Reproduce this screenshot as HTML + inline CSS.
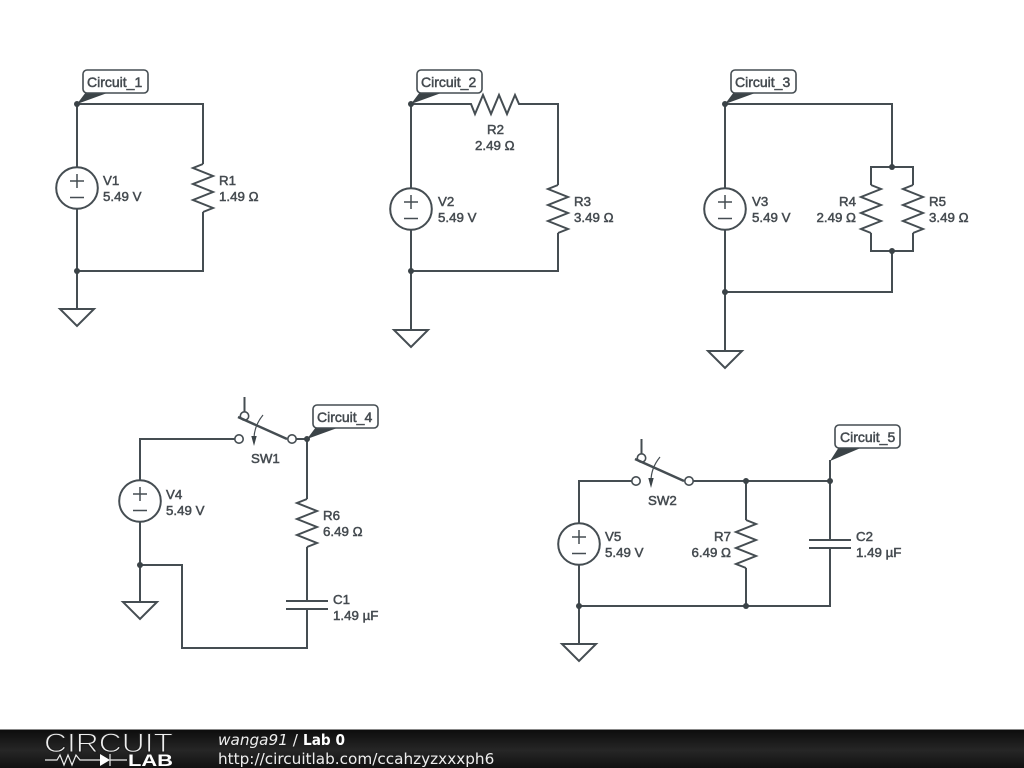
<!DOCTYPE html>
<html>
<head>
<meta charset="utf-8">
<style>
html,body{margin:0;padding:0;background:#fff;width:1024px;height:768px;overflow:hidden}
svg{display:block}
.w{fill:none;stroke:#454d52;stroke-width:2}
.t{font-family:"Liberation Sans",sans-serif;font-size:13.3px;fill:#454b50;stroke:#454b50;stroke-width:.5}
.c{font-size:14px}
.e{text-anchor:end}
.tag{fill:#fff;stroke:#454d52;stroke-width:1.6}
.p{fill:#3b4347}
.d{fill:#3b4347}
.f{font-family:"DejaVu Sans",sans-serif;font-size:15.25px;fill:#eee}
</style>
</head>
<body>
<svg width="1024" height="768" viewBox="0 0 1024 768" xmlns="http://www.w3.org/2000/svg">
<defs>
<linearGradient id="bar" x1="0" y1="0" x2="0" y2="1"><stop offset="0" stop-color="#0c0c0c"/><stop offset=".55" stop-color="#262626"/><stop offset="1" stop-color="#111"/></linearGradient>
<g id="v"><circle r="20.8" class="w" fill="none"/><path class="w" style="stroke-width:1.5" d="M-7 -7H7M0 -14V0M-7 9.500H7"/></g>
<path id="r" class="w" d="M0 -24L-10 -20L10 -12L-10 -4L10 4L-10 12L10 20L0 24"/>
<path id="rr" class="w" d="M0 -24L10 -20L-10 -12L10 -4L-10 4L10 12L-10 20L0 24"/>
<path id="g" class="w" d="M-17 0H17L0 17Z"/>
<g id="sw"><path class="w" style="stroke-width:2.500" d="M-1 -22L48 0"/><path class="w" d="M5.500 -27V-42"/><circle cx="0" cy="0" r="4.200" class="w" style="stroke-width:1.6" fill="#fff"/><circle cx="53" cy="0" r="4.200" class="w" style="stroke-width:1.6" fill="#fff"/><circle cx="5.500" cy="-23" r="4.200" class="w" style="stroke-width:1.6" fill="#fff"/><path fill="none" stroke="#454d52" stroke-width="1.200" d="M24 -24Q15 -13 15 0"/><path class="p" d="M12.300 -3H17.700L15 7Z"/></g>
</defs>

<!-- Circuit 1 -->
<path class="w" d="M77 104H203V164M203 212V271H77M77 104V167M77 209V309"/>
<use href="#v" x="77" y="188"/>
<use href="#r" x="203" y="188"/>
<use href="#g" x="77" y="309"/>
<circle class="d" cx="77" cy="104" r="3"/><circle class="d" cx="77" cy="271" r="3"/>
<path class="p" d="M77 104L86 92H110Z"/>
<rect class="tag" x="83" y="70" width="65" height="23" rx="4"/>
<text class="t c" x="87" y="87">Circuit_1</text>
<text class="t" x="103" y="185">V1</text><text class="t" x="103" y="201">5.49 V</text>
<text class="t" x="219" y="185">R1</text><text class="t" x="219" y="201">1.49 Ω</text>

<!-- Circuit 2 -->
<path class="w" d="M411 104H471L475 114L483 95L491 114L499 95L507 114L515 95L519 104H558V185M558 233V271H411M411 104V188M411 230V330"/>
<use href="#v" x="411" y="209"/>
<use href="#r" x="558" y="209"/>
<use href="#g" x="411" y="330"/>
<circle class="d" cx="411" cy="104" r="3"/><circle class="d" cx="411" cy="271" r="3"/>
<path class="p" d="M411 104L420 92H444Z"/>
<rect class="tag" x="417" y="70" width="65" height="23" rx="4"/>
<text class="t c" x="421" y="87">Circuit_2</text>
<text class="t" x="487" y="134">R2</text><text class="t" x="475" y="150">2.49 Ω</text>
<text class="t" x="438" y="206">V2</text><text class="t" x="438" y="222">5.49 V</text>
<text class="t" x="574" y="206">R3</text><text class="t" x="574" y="222">3.49 Ω</text>

<!-- Circuit 3 -->
<path class="w" d="M725 104H892V167M871 185V167H913V185M871 233V251H913V233M892 251V292H725M725 104V188M725 230V351"/>
<use href="#v" x="725" y="209"/>
<use href="#rr" x="871" y="209"/>
<use href="#r" x="913" y="209"/>
<use href="#g" x="725" y="351"/>
<circle class="d" cx="725" cy="104" r="3"/><circle class="d" cx="892" cy="167" r="3"/><circle class="d" cx="892" cy="251" r="3"/><circle class="d" cx="725" cy="292" r="3"/>
<path class="p" d="M725 104L734 92H758Z"/>
<rect class="tag" x="731" y="70" width="65" height="23" rx="4"/>
<text class="t c" x="735" y="87">Circuit_3</text>
<text class="t" x="752" y="206">V3</text><text class="t" x="752" y="222">5.49 V</text>
<text class="t e" x="856" y="206">R4</text><text class="t e" x="856" y="222">2.49 Ω</text>
<text class="t" x="929" y="206">R5</text><text class="t" x="929" y="222">3.49 Ω</text>

<!-- Circuit 4 -->
<path class="w" d="M140 480V439H235M296 439H307V499M307 547V601M286 601H328M286 609H328M307 609V648H182V565H140M140 522V602"/>
<use href="#v" x="140" y="501"/>
<use href="#r" x="307" y="523"/>
<use href="#g" x="140" y="602"/>
<use href="#sw" x="239" y="439"/>
<circle class="d" cx="307" cy="439" r="3"/><circle class="d" cx="140" cy="565" r="3"/>
<path class="p" d="M307 439L316 427H340Z"/>
<rect class="tag" x="313" y="405" width="65" height="23" rx="4"/>
<text class="t c" x="317" y="422">Circuit_4</text>
<text class="t" x="251" y="463">SW1</text>
<text class="t" x="166" y="499">V4</text><text class="t" x="166" y="515">5.49 V</text>
<text class="t" x="323" y="520">R6</text><text class="t" x="323" y="536">6.49 Ω</text>
<text class="t" x="333" y="604">C1</text><text class="t" x="333" y="620">1.49 µF</text>

<!-- Circuit 5 -->
<path class="w" d="M579 523V481H632M693 481H830M830 460V540M809 540H851M809 548H851M830 548V606H579M746 481V520M746 568V606M579 565V644"/>
<use href="#v" x="579" y="544"/>
<use href="#rr" x="746" y="544"/>
<use href="#g" x="579" y="644"/>
<use href="#sw" x="636" y="481"/>
<circle class="d" cx="746" cy="481" r="3"/><circle class="d" cx="830" cy="481" r="3"/><circle class="d" cx="746" cy="606" r="3"/><circle class="d" cx="579" cy="606" r="3"/>
<path class="p" d="M830 461L839 447H863Z"/>
<rect class="tag" x="835" y="425" width="65" height="23" rx="4"/>
<text class="t c" x="840" y="442">Circuit_5</text>
<text class="t" x="648" y="505">SW2</text>
<text class="t" x="605" y="541">V5</text><text class="t" x="605" y="557">5.49 V</text>
<text class="t e" x="731" y="541">R7</text><text class="t e" x="731" y="557">6.49 Ω</text>
<text class="t" x="856" y="541">C2</text><text class="t" x="856" y="557">1.49 µF</text>

<!-- Footer -->
<rect x="0" y="729" width="1024" height="39" fill="url(#bar)"/>
<rect x="0" y="729" width="1024" height="1" fill="#888"/>
<text x="44" y="752" font-family="Liberation Sans,sans-serif" font-size="26.5" textLength="129" lengthAdjust="spacingAndGlyphs" fill="#eee" stroke="#1c1c1c" stroke-width="1">CIRCUIT</text>
<path fill="none" stroke="#eee" stroke-width="1.200" d="M45 760H57L60 755L64 765L68 755L72 765L76 755L80 760H100M110 760H127M110 754V766"/>
<path fill="#fff" d="M100 754L110 760L100 766Z"/>
<text x="128" y="766" font-family="Liberation Sans,sans-serif" font-size="17" font-weight="bold" textLength="45" lengthAdjust="spacingAndGlyphs" fill="#fff">LAB</text>
<text class="f" x="218" y="745"><tspan font-style="italic">wanga91</tspan> /</text>
<text class="f" x="303" y="745" font-weight="bold" fill="#fff" style="fill:#fff" textLength="42" lengthAdjust="spacingAndGlyphs">Lab 0</text>
<text class="f" x="218" y="764">http://circuitlab.com/ccahzyzxxxph6</text>
</svg>
</body>
</html>
